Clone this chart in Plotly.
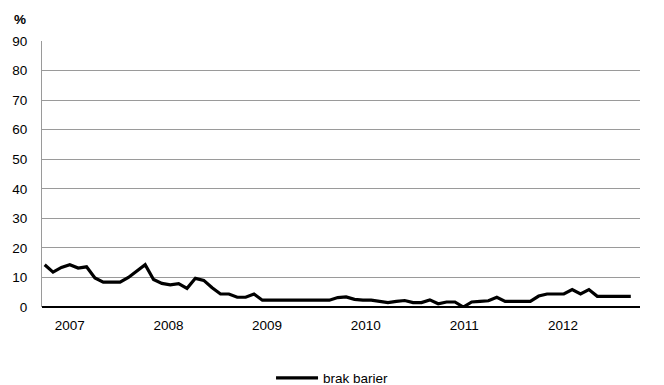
import plotly.graph_objects as go

# monthly observations (share of firms reporting no barriers, %)
values = [14.3, 11.8, 13.4, 14.3, 13.2, 13.6, 9.8, 8.4, 8.4, 8.4, 10.0, 12.0, 14.3,
          9.3, 8.0, 7.5, 7.9, 6.3, 9.7, 9.0, 6.5, 4.4, 4.4, 3.3, 3.3, 4.4,
          2.3, 2.3, 2.3, 2.3, 2.3, 2.3, 2.3, 2.3, 2.3,
          3.2, 3.4, 2.6, 2.3, 2.3, 1.8, 1.5, 1.9, 2.2, 1.5, 1.5, 2.4, 1.1, 1.7, 1.7, 0.0,
          1.7, 1.9, 2.1, 3.3, 1.9, 1.9, 1.9, 1.9, 3.7, 4.4, 4.4, 4.4, 5.9, 4.4, 5.9,
          3.6, 3.6, 3.6, 3.6, 3.6]
months = list(range(len(values)))
year_labels = ["2007", "2008", "2009", "2010", "2011", "2012"]
y_ticks = [0, 10, 20, 30, 40, 50, 60, 70, 80, 90]
series_name = "brak barier"

FONT = "Liberation Sans, Arial, sans-serif"
FS = 13.5

fig = go.Figure()
fig.add_trace(go.Scatter(x=months, y=values, mode="lines", name=series_name,
                         line=dict(color="#000000", width=3.2)))

tickpos = [3.0 + 11.78 * k for k in range(len(year_labels))]

# page body has an 8px default margin, so the figure is offset by (8, 8)
fig.update_layout(
    width=656, height=377,
    margin=dict(l=34, r=24, t=33, b=78, pad=0, autoexpand=False),
    paper_bgcolor="white", plot_bgcolor="white",
    font=dict(family=FONT, size=FS, color="#000000"),
    showlegend=True,
    legend=dict(orientation="h", x=0.383, xanchor="left", y=-0.267, yanchor="middle",
                font=dict(family=FONT, size=FS, color="#000000"),
                itemwidth=42, bgcolor="rgba(0,0,0,0)"),
    xaxis=dict(range=[-0.32, 71.1], tickmode="array", tickvals=tickpos, ticktext=year_labels,
               showgrid=False, zeroline=False, showline=False, ticks="", automargin=False,
               ticklabelstandoff=8, tickfont=dict(size=FS)),
    yaxis=dict(range=[0, 90], tickmode="array", tickvals=y_ticks, automargin=False,
               showgrid=True, gridcolor="#9a9a9a", gridwidth=1,
               zeroline=True, zerolinecolor="#000000", zerolinewidth=1.5,
               showline=True, linecolor="#9a9a9a", linewidth=1, ticks="",
               ticklabelstandoff=11, tickfont=dict(size=FS)),
    annotations=[dict(text="<b>%</b>", xref="paper", yref="paper", x=-0.036, y=1.082,
                      showarrow=False, xanchor="center", yanchor="middle",
                      font=dict(family=FONT, size=FS, color="#000000"))],
)

fig.write_html("out.html")
